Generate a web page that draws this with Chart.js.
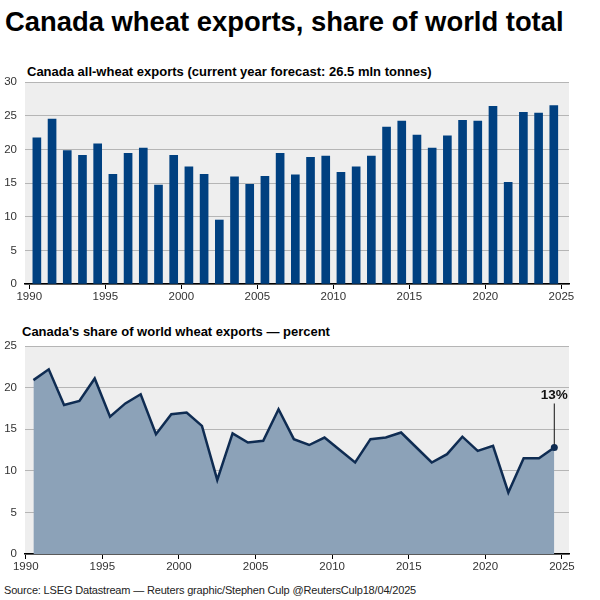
<!DOCTYPE html>
<html>
<head>
<meta charset="utf-8">
<script src="https://cdn.jsdelivr.net/npm/chart.js@4.4.1/dist/chart.umd.min.js"></script>
<style>
  html, body { margin: 0; padding: 0; background: #fff; }
  body { width: 600px; height: 600px; position: relative; overflow: hidden; font-family: "Liberation Sans", Arial, sans-serif; }
  .t { position: absolute; white-space: nowrap; color: #000; line-height: 1; }
  #title { left: 5px; top: 8px; font-size: 27.4px; font-weight: bold; }
  #sub1 { left: 27px; top: 65px; font-size: 13px; font-weight: bold; }
  #sub2 { left: 22px; top: 325px; font-size: 13px; font-weight: bold; }
  #source { left: 4px; top: 585px; font-size: 11px; letter-spacing: -0.17px; color: #222; }
  .box { position: absolute; left: 0; width: 600px; }
  #box1 { top: 58px; height: 252px; }
  #box2 { top: 322px; height: 258px; }
</style>
</head>
<body>
<div class="t" id="title">Canada wheat exports, share of world total</div>
<div class="t" id="sub1">Canada all-wheat exports (current year forecast: 26.5 mln tonnes)</div>
<div class="t" id="sub2">Canada's share of world wheat exports — percent</div>
<div class="t" id="source">Source: LSEG Datastream — Reuters graphic/Stephen Culp @ReutersCulp18/04/2025</div>
<div class="box" id="box1"><canvas id="c1"></canvas></div>
<div class="box" id="box2"><canvas id="c2"></canvas></div>
<script>
// ---- data ----
const years = [1990,1991,1992,1993,1994,1995,1996,1997,1998,1999,2000,2001,2002,2003,2004,2005,2006,2007,2008,2009,2010,2011,2012,2013,2014,2015,2016,2017,2018,2019,2020,2021,2022,2023,2024];
const exportsMt = [21.7,24.5,19.8,19.1,20.8,16.3,19.4,20.2,14.7,19.1,17.4,16.3,9.5,15.9,14.8,16.0,19.4,16.2,18.8,19.0,16.6,17.4,19.0,23.3,24.2,22.1,20.2,22.0,24.3,24.2,26.4,15.1,25.5,25.4,26.5];
const sharePct = [20.9,22.2,17.9,18.4,21.1,16.5,18.1,19.2,14.4,16.8,17.0,15.4,8.9,14.5,13.4,13.6,17.4,13.8,13.1,14.0,12.5,11.0,13.8,14.0,14.6,12.8,11.0,12.0,14.1,12.4,13.0,7.4,11.5,11.5,12.8];
const xTicks = [1990,1995,2000,2005,2010,2015,2020,2025];
const yTicksTop = [0,5,10,15,20,25,30];
const yTicksBottom = [0,5,10,15,20,25];
const lastLabel = "13%";

Chart.defaults.font.family = '"Liberation Sans", Arial, sans-serif';
Chart.defaults.color = '#333';
Chart.defaults.animation = false;

const gridColor = '#b5b5b5';
const plotBg = '#eeeeee';

const bgPlugin = {
  id: 'plotBg',
  beforeDraw(chart) {
    const a = chart.chartArea, ctx = chart.ctx;
    ctx.save();
    ctx.fillStyle = plotBg;
    ctx.fillRect(a.left, a.top, a.right - a.left, a.bottom - a.top);
    ctx.restore();
  }
};

function xScale(min, max) {
  return {
    type: 'linear', min: min, max: max, offset: false,
    afterBuildTicks: s => { s.ticks = xTicks.map(v => ({ value: v })); },
    afterFit: s => { s.height = 26; },
    ticks: { callback: v => String(v), font: { size: 11.5 }, color: '#333', padding: 1, maxRotation: 0, autoSkip: false },
    grid: { drawOnChartArea: false, drawTicks: true, tickLength: 5, color: '#000', lineWidth: 1, offset: false },
    border: { display: true, color: '#000', width: 1.5 }
  };
}
function yScale(max, ticks) {
  return {
    min: 0, max: max,
    afterBuildTicks: s => { s.ticks = ticks.map(v => ({ value: v })); },
    afterFit: s => { s.width = 25; },
    ticks: { font: { size: 11.5 }, color: '#333', padding: 8 },
    grid: { color: gridColor, lineWidth: 1, drawTicks: false },
    border: { display: false }
  };
}

new Chart(document.getElementById('c1'), {
  type: 'bar',
  data: {
    datasets: [{
      data: years.map((y, i) => ({ x: y + 0.5, y: exportsMt[i] })),
      backgroundColor: '#004080',
      barThickness: 8,
      borderWidth: 0
    }]
  },
  options: {
    responsive: true, maintainAspectRatio: false,
    layout: { padding: { left: 0, right: 31, top: 24, bottom: 0 } },
    plugins: { legend: { display: false }, tooltip: { enabled: false } },
    scales: { x: xScale(1989.72, 2025.5), y: yScale(30, yTicksTop) }
  },
  plugins: [bgPlugin]
});

const annotPlugin = {
  id: 'annot',
  afterDatasetsDraw(chart) {
    const meta = chart.getDatasetMeta(0);
    const pt = meta.data[meta.data.length - 1];
    const ctx = chart.ctx;
    ctx.save();
    ctx.strokeStyle = '#111';
    ctx.lineWidth = 1;
    ctx.beginPath();
    ctx.moveTo(pt.x, pt.y - 3);
    ctx.lineTo(pt.x, pt.y - 44);
    ctx.stroke();
    ctx.fillStyle = '#111';
    ctx.font = 'bold 13.5px "Liberation Sans", Arial, sans-serif';
    ctx.textAlign = 'center';
    ctx.textBaseline = 'middle';
    ctx.fillText(lastLabel, pt.x, pt.y - 52);
    ctx.restore();
  }
};

new Chart(document.getElementById('c2'), {
  type: 'line',
  data: {
    datasets: [{
      data: years.map((y, i) => ({ x: y + 0.5, y: sharePct[i] })),
      borderColor: '#0f2c52',
      borderWidth: 2.5,
      backgroundColor: '#8ca2b8',
      fill: 'origin',
      tension: 0,
      pointRadius: ctx => ctx.dataIndex === years.length - 1 ? 3.5 : 0,
      pointBackgroundColor: '#0f2c52',
      pointBorderWidth: 0
    }]
  },
  options: {
    responsive: true, maintainAspectRatio: false,
    layout: { padding: { left: 0, right: 31, top: 24, bottom: 0 } },
    plugins: { legend: { display: false }, tooltip: { enabled: false } },
    scales: { x: xScale(1989.95, 2025.46), y: yScale(25, yTicksBottom) }
  },
  plugins: [bgPlugin, annotPlugin]
});
</script>
</body>
</html>
